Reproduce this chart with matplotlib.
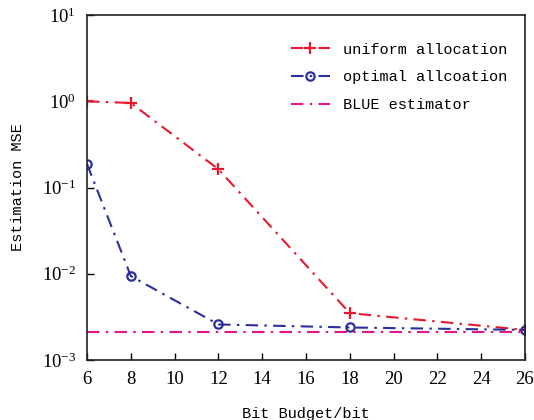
import matplotlib
matplotlib.use("Agg")
import matplotlib.pyplot as plt

# bit budget
bits = [6, 8, 12, 18, 26]
# estimation MSE
mse_uniform = [1.0, 0.957, 0.163, 0.00349, 0.00223]
mse_optimal = [0.187, 0.0094, 0.00258, 0.00238, 0.00223]
blue_x = [6, 26]
mse_blue = [0.00213, 0.00213]

xticks = [6, 8, 10, 12, 14, 16, 18, 20, 22, 24, 26]

# serif for tick numbers, mono (SimSun-like) for the words
plt.rcParams['font.family'] = ['Liberation Serif', 'DejaVu Serif']
plt.rcParams['mathtext.fontset'] = 'custom'
plt.rcParams['mathtext.rm'] = 'Liberation Serif'
plt.rcParams['mathtext.it'] = 'Liberation Serif'
mono = ['Liberation Mono', 'DejaVu Sans Mono']

fig = plt.figure(figsize=(5.34, 4.2), dpi=100)
ax = fig.add_axes([0.163, 0.143, 0.82, 0.821])

dash = (0, (6, 3, 1.2, 3))
ax.plot(bits, mse_uniform, color="#e8192c", linestyle=dash, linewidth=1.5,
        marker="+", markersize=9, markeredgewidth=1.6, label="uniform allocation")
ax.plot(bits, mse_optimal, color="#2b2f9c", linestyle=dash, linewidth=1.5,
        marker="o", markersize=6, markerfacecolor="none", markeredgewidth=1.6,
        label="optimal allcoation")
ax.plot(blue_x, mse_blue, color="#e0168a", linestyle=dash, linewidth=1.5,
        label="BLUE estimator")

ax.set_yscale("log")
ax.set_ylim(1e-3, 1e1)
ax.set_xlim(6, 26)
ax.set_xticks(xticks)
ax.minorticks_off()
ax.tick_params(direction="in", length=5, width=1, top=False, right=False,
               labelsize=13.5, pad=8)
for sp in ax.spines.values():
    sp.set_linewidth(1.2)
    sp.set_color("#222222")

ax.set_xlabel("Bit Budget/bit", fontsize=11, labelpad=14, family=mono)
ax.set_ylabel("Estimation MSE", fontsize=11, labelpad=12, family=mono)

ax.legend(loc="upper right", frameon=False, handlelength=2.6,
          labelspacing=0.9, bbox_to_anchor=(0.99, 0.96),
          prop={'family': mono, 'size': 11})

fig.savefig("out.png", dpi=100)
